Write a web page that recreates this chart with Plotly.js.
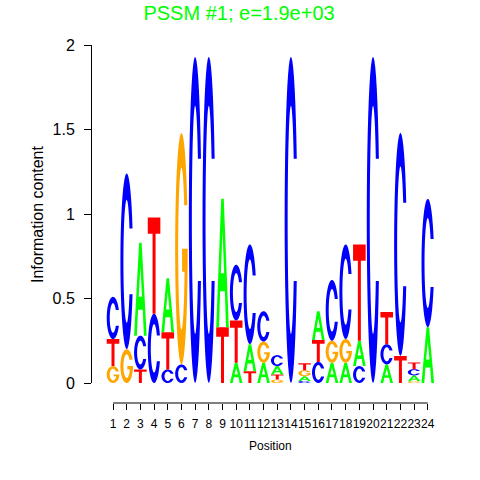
<!DOCTYPE html>
<html><head><meta charset="utf-8">
<script src="https://cdn.plot.ly/plotly-3.0.1.min.js"></script>
<style>html,body{margin:0;padding:0;background:#fff}#chart{width:480px;height:480px}</style>
</head><body><div id="chart"></div>
<script>
// ---- data (information content in bits) ----
const positions = [1,2,3,4,5,6,7,8,9,10,11,12,13,14,15,16,17,18,19,20,21,22,23,24];
const tickLabels = positions.map(String);
const bitsA = [0,0,0.55,0,0.32,0,0,0,0.76,0.12,0.16,0.12,0.05,0,0.028,0.17,0.12,0.12,0.15,0,0.11,0,0.035,0.33];
const bitsC = [0.25,1.04,0.20,0.41,0.08,0.11,1.93,1.93,0,0.33,0.59,0.18,0.065,1.93,0.012,0.125,0.36,0.56,0.10,1.93,0.12,1.32,0.037,0.76];
const bitsG = [0.10,0.20,0,0,0,1.37,0,0,0,0,0,0.125,0.02,0,0.035,0,0.13,0.14,0,0,0,0,0.01,0];
const bitsT = [0.16,0,0.08,0.57,0.22,0,0,0,0.33,0.25,0.07,0,0.03,0,0.042,0.13,0,0,0.57,0,0.19,0.16,0.04,0];
const yTickVals = [0,0.5,1,1.5,2];
const yTickText = ['0','0.5','1','1.5','2'];
const letterColors = {A:'#00FF00', C:'#0000FF', G:'#FFA500', T:'#FF0000'};
const titleText = 'PSSM #1; e=1.9e+03';

// ---- glyph outlines in a unit box ----
const RO = 0.5, RXI = 0.26, RYI = 0.35;
const rad = d => d*Math.PI/180;
const ellO = d => [0.5+RO*Math.cos(rad(d)), 0.5+RO*Math.sin(rad(d))];
const ellI = d => [0.5+RXI*Math.cos(rad(d)), 0.5+RYI*Math.sin(rad(d))];
function arc(fn, a0, a1, n){const p=[];for(let i=0;i<=n;i++){p.push(fn(a0+(a1-a0)*i/n));}return p;}
const thO = 22, phiTop = Math.asin(RO*Math.sin(rad(thO))/RYI)*180/Math.PI;
function glyph(ch){
  if(ch==='A') return [
    [[0,0],[0.4,1],[0.6,1],[1,0],[0.78,0],[0.688,0.28],[0.312,0.28],[0.22,0]],
    [[0.368,0.42],[0.5,0.75],[0.632,0.42]]
  ];
  if(ch==='T') return [[[0,1],[1,1],[1,0.83],[0.62,0.83],[0.62,0],[0.38,0],[0.38,0.83],[0,0.83]]];
  if(ch==='C') return [arc(ellO,thO,360-thO,40).concat(arc(ellI,360-phiTop,phiTop,40))];
  if(ch==='G'){
    const phiBar = 360 - Math.asin(0.1/RYI)*180/Math.PI;
    return [arc(ellO,thO,360,40).concat([[0.55,0.5],[0.55,0.4]]).concat(arc(ellI,phiBar,phiTop,40))];
  }
}
const letterW = 0.92;
const shapes = [];
positions.forEach((pos,i)=>{
  const stack = [['A',bitsA[i]],['C',bitsC[i]],['G',bitsG[i]],['T',bitsT[i]]]
    .filter(d=>d[1]>0).sort((a,b)=>a[1]-b[1]);
  let base = 0;
  stack.forEach(([ch,h])=>{
    const x0 = pos - letterW/2;
    const path = glyph(ch).map(poly => 'M' + poly.map(p => (x0+p[0]*letterW).toFixed(4)+','+(base+p[1]*h).toFixed(5)).join('L') + 'Z').join(' ');
    shapes.push({type:'path', xref:'x', yref:'y', path:path, fillcolor:letterColors[ch], line:{width:0}, fillrule:'evenodd', layer:'above'});
    base += h;
  });
});
// x axis line from first to last position (R style)
shapes.push({type:'line', xref:'x', yref:'paper', x0:positions[0], x1:positions[positions.length-1], y0:0, y1:0, line:{color:'#000', width:1}});

const fam = 'Liberation Sans, Arial, sans-serif';
const xfont = {family:fam, size:12, color:'#000'};
const yfont = {family:fam, size:16, color:'#000'};
const layout = {
  width:480, height:480,
  margin:{l:91, r:44, t:45, b:77},
  paper_bgcolor:'#fff', plot_bgcolor:'#fff',
  showlegend:false,
  font:xfont,
  title:{text:titleText, font:{family:fam, size:20, color:'#00FF00'}, x:0.498, xref:'container', xanchor:'center', y:0.973, yref:'container', yanchor:'middle'},
  xaxis:{domain:[0.04,1], range:[0.4,24.6], anchor:'free', position:0, showgrid:false, zeroline:false, showline:false,
    tickmode:'array', tickvals:positions, ticktext:tickLabels, tickangle:0, ticks:'outside', ticklen:6, tickcolor:'#000', tickfont:xfont, ticklabelstandoff:4, fixedrange:true},
  yaxis:{domain:[20/358,1], range:[0,2], anchor:'free', position:0, showgrid:false, zeroline:false, showline:true, linecolor:'#000', linewidth:1,
    tickmode:'array', tickvals:yTickVals, ticktext:yTickText, ticks:'outside', ticklen:7, tickcolor:'#000', tickfont:yfont, ticklabelstandoff:6, fixedrange:true},
  shapes:shapes,
  annotations:[
    {text:'Position', xref:'paper', yref:'paper', x:(270.5-91)/345, y:(403-446)/358, showarrow:false, font:xfont, xanchor:'center', yanchor:'middle'},
    {text:'Information content', xref:'paper', yref:'paper', x:(37-91)/345, y:(403-214)/358, textangle:-90, showarrow:false, font:yfont, xanchor:'center', yanchor:'middle'}
  ]
};
const traces = [{type:'scatter', mode:'markers', x:positions, y:positions.map(()=>0), marker:{opacity:0}, hoverinfo:'skip', showlegend:false}];
Plotly.newPlot('chart', traces, layout, {staticPlot:true, displayModeBar:false});
</script>
</body></html>
